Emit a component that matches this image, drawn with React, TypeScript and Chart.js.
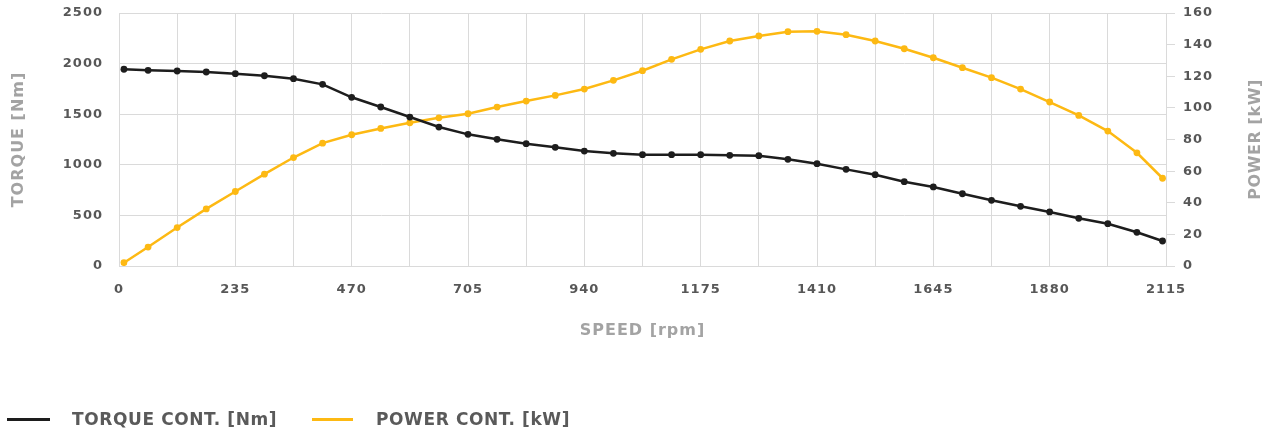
import React, { useEffect, useRef } from 'react';
import { Chart, registerables } from 'chart.js';

Chart.register(...registerables);

// ---- data ----
const SPEED_RPM = [
  10, 58.75, 117.5, 176.25, 235, 293.75, 352.5, 411.25, 470, 528.75, 587.5, 646.25,
  705, 763.75, 822.5, 881.25, 940, 998.75, 1057.5, 1116.25, 1175, 1233.75, 1292.5,
  1351.25, 1410, 1468.75, 1527.5, 1586.25, 1645, 1703.75, 1762.5, 1821.25, 1880,
  1938.75, 1997.5, 2056.25, 2108,
];
const TORQUE_NM = [
  1944, 1934, 1927, 1917, 1900, 1880, 1851, 1795, 1667, 1571, 1472, 1373, 1301,
  1252, 1209, 1173, 1136, 1113, 1100, 1100, 1100, 1094, 1090, 1054, 1011, 955, 902,
  833, 781, 714, 649, 590, 534, 471, 418, 333, 247,
];
const POWER_KW = [
  2.1, 12.0, 24.3, 36.1, 47.1, 58.1, 68.6, 77.7, 83.0, 87.0, 90.6, 93.7, 96.3, 100.5,
  104.3, 107.9, 111.9, 117.4, 123.5, 130.7, 137.0, 142.3, 145.5, 148.2, 148.4, 146.3,
  142.3, 137.4, 131.7, 125.4, 119.1, 111.9, 103.7, 95.2, 85.3, 71.6, 55.5,
];
const SERIES_LABELS = ['TORQUE CONT. [Nm]', 'POWER CONT. [kW]'];
const SERIES_COLORS = ['#1d1d1d', '#fdb913'];
const X_TITLE = 'SPEED [rpm]';
const Y_LEFT_TITLE = 'TORQUE [Nm]';
const Y_RIGHT_TITLE = 'POWER [kW]';
const X_RANGE = [0, 2115];
const X_GRID_STEP = 117.5;
const Y_LEFT_RANGE = [0, 2500];
const Y_LEFT_STEP = 500;
const Y_RIGHT_RANGE = [0, 160];
const Y_RIGHT_STEP = 20;

const FONT = '"DejaVu Sans", sans-serif';
const TICK_COLOR = '#575757';
const TITLE_COLOR = '#a3a3a3';
const GRID_COLOR = '#dadada';

const spacingPlugin = {
  id: 'letterSpacing',
  beforeUpdate(chart: any) { chart.ctx.letterSpacing = '1px'; },
  beforeLayout(chart: any) { chart.ctx.letterSpacing = '1px'; },
  beforeDraw(chart: any) { chart.ctx.letterSpacing = '1px'; },
};

const rightTitlePlugin = {
  id: 'rightTitle',
  afterDraw(chart: any) {
    const { ctx, chartArea } = chart;
    const s = chart.scales.y1;
    ctx.save();
    ctx.letterSpacing = '0.6px';
    ctx.translate(s.right - 16, (chartArea.top + chartArea.bottom) / 2);
    ctx.rotate(-Math.PI / 2);
    ctx.fillStyle = TITLE_COLOR;
    ctx.font = `bold 16px ${FONT}`;
    ctx.textAlign = 'center';
    ctx.textBaseline = 'middle';
    ctx.fillText(Y_RIGHT_TITLE, 0, 0);
    ctx.restore();
  },
};

const plain = (v: any) => String(v);

export default function App() {
  const ref = useRef<HTMLCanvasElement | null>(null);

  useEffect(() => {
    document.body.style.margin = '0';
    const canvas = ref.current!;
    const chart = new Chart(canvas, {
      type: 'line',
      data: {
        datasets: [
          {
            label: SERIES_LABELS[0],
            data: SPEED_RPM.map((x, i) => ({ x, y: TORQUE_NM[i] })),
            borderColor: SERIES_COLORS[0],
            backgroundColor: SERIES_COLORS[0],
            borderWidth: 2.5,
            pointRadius: 3.4,
            pointBorderWidth: 0,
            yAxisID: 'y',
            tension: 0,
          },
          {
            label: SERIES_LABELS[1],
            data: SPEED_RPM.map((x, i) => ({ x, y: POWER_KW[i] })),
            borderColor: SERIES_COLORS[1],
            backgroundColor: SERIES_COLORS[1],
            borderWidth: 2.5,
            pointRadius: 3.4,
            pointBorderWidth: 0,
            yAxisID: 'y1',
            tension: 0,
          },
        ],
      },
      options: {
        animation: false,
        responsive: false,
        maintainAspectRatio: false,
        layout: { padding: { top: 13, left: 0, right: 0, bottom: 0 } },
        plugins: { legend: { display: false }, tooltip: { enabled: false } },
        scales: {
          x: {
            type: 'linear',
            min: X_RANGE[0],
            max: X_RANGE[1],
            grid: { color: GRID_COLOR, drawTicks: false },
            border: { color: GRID_COLOR },
            ticks: {
              stepSize: X_GRID_STEP,
              autoSkip: false,
              maxRotation: 0,
              padding: 16,
              color: TICK_COLOR,
              font: { family: FONT, size: 13, weight: 'bold' },
              callback: (v: any, i: number) => (i % 2 === 0 ? String(v) : ''),
            },
            title: {
              display: true,
              text: X_TITLE,
              color: TITLE_COLOR,
              font: { family: FONT, size: 16, weight: 'bold' },
              padding: { top: 0, bottom: 92 },
            },
            afterFit: (s: any) => { s.height = 166; },
          },
          y: {
            type: 'linear',
            position: 'left',
            min: Y_LEFT_RANGE[0],
            max: Y_LEFT_RANGE[1],
            grid: { color: GRID_COLOR, drawTicks: false },
            border: { color: GRID_COLOR },
            ticks: {
              stepSize: Y_LEFT_STEP,
              padding: 16,
              color: TICK_COLOR,
              font: { family: FONT, size: 13, weight: 'bold' },
              callback: plain,
            },
            title: {
              display: true,
              text: Y_LEFT_TITLE,
              color: TITLE_COLOR,
              font: { family: FONT, size: 16, weight: 'bold' },
              padding: { top: 9, bottom: 0 },
            },
            afterFit: (s: any) => {
              s.width = 119;
              s.paddingTop = 0;
              s.paddingBottom = 0;
            },
          },
          y1: {
            type: 'linear',
            position: 'right',
            min: Y_RIGHT_RANGE[0],
            max: Y_RIGHT_RANGE[1],
            grid: { color: GRID_COLOR, drawOnChartArea: false, tickLength: 9 },
            border: { color: GRID_COLOR },
            ticks: {
              stepSize: Y_RIGHT_STEP,
              padding: 8,
              color: TICK_COLOR,
              font: { family: FONT, size: 13, weight: 'bold' },
              callback: plain,
            },
            afterFit: (s: any) => {
              s.width = 106;
              s.paddingTop = 0;
              s.paddingBottom = 0;
            },
          },
        },
      } as any,
      plugins: [spacingPlugin, rightTitlePlugin],
    });
    return () => chart.destroy();
  }, []);

  const legendLine = (left: number, width: number, color: string) => (
    <div style={{ position: 'absolute', left, top: 418, width, height: 3, background: color }} />
  );
  const legendText = (left: number, text: string) => (
    <div
      style={{
        position: 'absolute',
        left,
        top: 408,
        height: 22,
        lineHeight: '22px',
        fontFamily: FONT,
        fontWeight: 'bold',
        fontSize: 17,
        letterSpacing: '0.6px',
        color: '#5a5a5a',
        whiteSpace: 'nowrap',
      }}
    >
      {text}
    </div>
  );

  return (
    <div style={{ position: 'absolute', left: 0, top: 0, width: 1272, height: 432 }}>
      <canvas ref={ref} width={1272} height={432} style={{ display: 'block' }} />
      {legendLine(7, 43, SERIES_COLORS[0])}
      {legendText(72, SERIES_LABELS[0])}
      {legendLine(312, 41, SERIES_COLORS[1])}
      {legendText(376, SERIES_LABELS[1])}
    </div>
  );
}
